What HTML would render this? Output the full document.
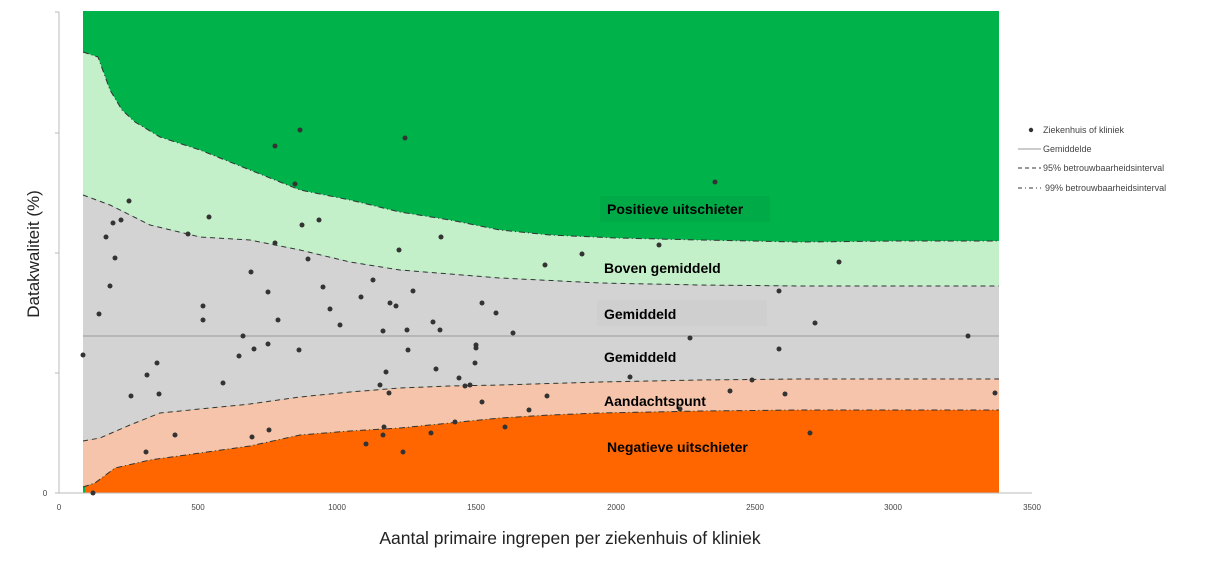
<!DOCTYPE html>
<html><head><meta charset="utf-8"><style>
body{margin:0;background:#fff;width:1207px;height:561px;overflow:hidden;font-family:"Liberation Sans",sans-serif}
</style></head><body>
<svg width="1207" height="561" xmlns="http://www.w3.org/2000/svg" font-family="Liberation Sans, sans-serif">
<rect x="83" y="11" width="916" height="482" fill="#00b24a"/>
<polygon fill="#c3efc9" points="83,52 98,57 110,90 122,110 135,122 160,137 200,150 250,170 300,190 350,200 400,212 450,220 500,230 550,235 616,238 700,240 800,242 900,241 999,241 999,286 800,286 700,285 600,283 500,278 450,274 400,270 350,262 300,250 250,240 200,237 150,225 110,205 83,195"/>
<polygon fill="#d3d3d3" points="83,195 110,205 150,225 200,237 250,240 300,250 350,262 400,270 450,274 500,278 600,283 700,285 800,286 999,286 999,379 800,379 700,380 600,382 500,385 450,386 400,388 350,392 300,397 250,404 200,409 160,413 130,425 100,438 83,441"/>
<polygon fill="#f5c4aa" points="83,441 100,438 130,425 160,413 200,409 250,404 300,397 350,392 400,388 450,386 500,385 600,382 700,380 800,379 999,379 999,410 800,410 700,411 600,413 550,415 500,418 450,423 400,428 350,431 300,435 250,446 200,453 150,460 115,468 95,483 83,487"/>
<polygon fill="#ff6600" points="85,493 85,487 95,483 115,468 150,460 200,453 250,446 300,435 350,431 400,428 450,423 500,418 550,415 600,413 700,411 800,410 999,410 999,493"/>
<rect x="600" y="196" width="170" height="26" fill="#00aa47"/>
<rect x="597" y="300" width="170" height="26" fill="#cfcfcf"/>
<g fill="none" stroke="#333" stroke-width="1">
<polyline stroke-dasharray="6,3,1,3" points="83,52 98,57 110,90 122,110 135,122 160,137 200,150 250,170 300,190 350,200 400,212 450,220 500,230 550,235 616,238 700,240 800,242 900,241 999,241"/>
<polyline stroke-dasharray="5,4" points="83,195 110,205 150,225 200,237 250,240 300,250 350,262 400,270 450,274 500,278 600,283 700,285 800,286 999,286"/>
<polyline stroke-dasharray="5,4" points="83,441 100,438 130,425 160,413 200,409 250,404 300,397 350,392 400,388 450,386 500,385 600,382 700,380 800,379 999,379"/>
<polyline stroke-dasharray="6,3,1,3" points="83,487 95,483 115,468 150,460 200,453 250,446 300,435 350,431 400,428 450,423 500,418 550,415 600,413 700,411 800,410 999,410"/>
</g>
<line x1="83" y1="336" x2="999" y2="336" stroke="#999" stroke-width="1"/>
<g stroke="#bbb" stroke-width="1">
<line x1="59" y1="12" x2="59" y2="493"/><line x1="59" y1="493" x2="1032" y2="493"/>
<line x1="55" y1="12" x2="59" y2="12"/><line x1="55" y1="133" x2="59" y2="133"/><line x1="55" y1="253" x2="59" y2="253"/><line x1="55" y1="373" x2="59" y2="373"/><line x1="55" y1="493" x2="59" y2="493"/>
</g>
<g fill="#333">
<circle cx="83" cy="355" r="2.5"/><circle cx="93" cy="493" r="2.5"/><circle cx="99" cy="314" r="2.5"/><circle cx="106" cy="237" r="2.5"/><circle cx="110" cy="286" r="2.5"/><circle cx="113" cy="223" r="2.5"/><circle cx="115" cy="258" r="2.5"/><circle cx="121" cy="220" r="2.5"/><circle cx="129" cy="201" r="2.5"/><circle cx="131" cy="396" r="2.5"/><circle cx="146" cy="452" r="2.5"/><circle cx="147" cy="375" r="2.5"/><circle cx="157" cy="363" r="2.5"/><circle cx="159" cy="394" r="2.5"/><circle cx="175" cy="435" r="2.5"/><circle cx="188" cy="234" r="2.5"/><circle cx="203" cy="306" r="2.5"/><circle cx="203" cy="320" r="2.5"/><circle cx="209" cy="217" r="2.5"/><circle cx="223" cy="383" r="2.5"/><circle cx="239" cy="356" r="2.5"/><circle cx="243" cy="336" r="2.5"/><circle cx="251" cy="272" r="2.5"/><circle cx="252" cy="437" r="2.5"/><circle cx="254" cy="349" r="2.5"/><circle cx="268" cy="292" r="2.5"/><circle cx="268" cy="344" r="2.5"/><circle cx="269" cy="430" r="2.5"/><circle cx="275" cy="146" r="2.5"/><circle cx="275" cy="243" r="2.5"/><circle cx="278" cy="320" r="2.5"/><circle cx="295" cy="184" r="2.5"/><circle cx="299" cy="350" r="2.5"/><circle cx="300" cy="130" r="2.5"/><circle cx="302" cy="225" r="2.5"/><circle cx="308" cy="259" r="2.5"/><circle cx="319" cy="220" r="2.5"/><circle cx="323" cy="287" r="2.5"/><circle cx="330" cy="309" r="2.5"/><circle cx="340" cy="325" r="2.5"/><circle cx="361" cy="297" r="2.5"/><circle cx="366" cy="444" r="2.5"/><circle cx="373" cy="280" r="2.5"/><circle cx="380" cy="385" r="2.5"/><circle cx="383" cy="331" r="2.5"/><circle cx="383" cy="435" r="2.5"/><circle cx="384" cy="427" r="2.5"/><circle cx="386" cy="372" r="2.5"/><circle cx="389" cy="393" r="2.5"/><circle cx="390" cy="303" r="2.5"/><circle cx="396" cy="306" r="2.5"/><circle cx="399" cy="250" r="2.5"/><circle cx="403" cy="452" r="2.5"/><circle cx="405" cy="138" r="2.5"/><circle cx="407" cy="330" r="2.5"/><circle cx="408" cy="350" r="2.5"/><circle cx="413" cy="291" r="2.5"/><circle cx="431" cy="433" r="2.5"/><circle cx="433" cy="322" r="2.5"/><circle cx="436" cy="369" r="2.5"/><circle cx="440" cy="330" r="2.5"/><circle cx="441" cy="237" r="2.5"/><circle cx="455" cy="422" r="2.5"/><circle cx="459" cy="378" r="2.5"/><circle cx="465" cy="386" r="2.5"/><circle cx="470" cy="385" r="2.5"/><circle cx="475" cy="363" r="2.5"/><circle cx="476" cy="345" r="2.5"/><circle cx="476" cy="348" r="2.5"/><circle cx="482" cy="303" r="2.5"/><circle cx="482" cy="402" r="2.5"/><circle cx="496" cy="313" r="2.5"/><circle cx="505" cy="427" r="2.5"/><circle cx="513" cy="333" r="2.5"/><circle cx="529" cy="410" r="2.5"/><circle cx="545" cy="265" r="2.5"/><circle cx="547" cy="396" r="2.5"/><circle cx="582" cy="254" r="2.5"/><circle cx="630" cy="377" r="2.5"/><circle cx="659" cy="245" r="2.5"/><circle cx="680" cy="409" r="2.5"/><circle cx="690" cy="338" r="2.5"/><circle cx="715" cy="182" r="2.5"/><circle cx="730" cy="391" r="2.5"/><circle cx="752" cy="380" r="2.5"/><circle cx="779" cy="291" r="2.5"/><circle cx="779" cy="349" r="2.5"/><circle cx="785" cy="394" r="2.5"/><circle cx="810" cy="433" r="2.5"/><circle cx="815" cy="323" r="2.5"/><circle cx="839" cy="262" r="2.5"/><circle cx="968" cy="336" r="2.5"/><circle cx="995" cy="393" r="2.5"/>
</g>
<g font-weight="bold" font-size="14" fill="#000">
<text x="607" y="214">Positieve uitschieter</text>
<text x="604" y="273">Boven gemiddeld</text>
<text x="604" y="319">Gemiddeld</text>
<text x="604" y="362">Gemiddeld</text>
<text x="604" y="406">Aandachtspunt</text>
<text x="607" y="452">Negatieve uitschieter</text>
</g>
<g font-size="8" fill="#444" text-anchor="middle">
<text x="45" y="496">0</text>
<text x="59" y="510">0</text><text x="198" y="510">500</text><text x="337" y="510">1000</text><text x="476" y="510">1500</text><text x="616" y="510">2000</text><text x="755" y="510">2500</text><text x="893" y="510">3000</text><text x="1032" y="510">3500</text>
</g>
<text x="570" y="544" font-size="17.5" fill="#222" text-anchor="middle">Aantal primaire ingrepen per ziekenhuis of kliniek</text>
<text transform="translate(39,254) rotate(-90)" font-size="17" fill="#222" text-anchor="middle">Datakwaliteit (%)</text>
<g font-size="9" fill="#444">
<circle cx="1031" cy="130" r="2.2" fill="#333"/><text x="1043" y="133">Ziekenhuis of kliniek</text>
<line x1="1018" y1="149" x2="1041" y2="149" stroke="#999"/><text x="1043" y="152">Gemiddelde</text>
<line x1="1018" y1="168" x2="1041" y2="168" stroke="#333" stroke-dasharray="4,3"/><text x="1043" y="171">95% betrouwbaarheidsinterval</text>
<line x1="1018" y1="188" x2="1041" y2="188" stroke="#333" stroke-dasharray="4,3,1,3"/><text x="1045" y="191">99% betrouwbaarheidsinterval</text>
</g>
</svg>
</body></html>
